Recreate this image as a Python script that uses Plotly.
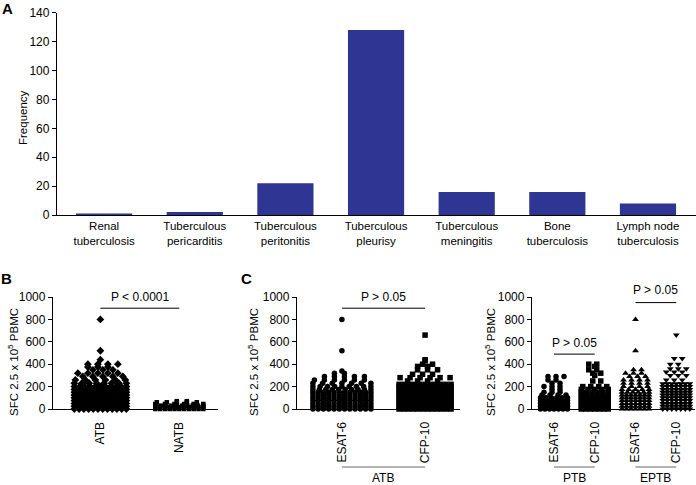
import plotly.graph_objects as go

W, H = 696, 485

# ---------------- Panel A data ----------------
sites = ["Renal<br>tuberculosis", "Tuberculous<br>pericarditis", "Tuberculous<br>peritonitis",
         "Tuberculous<br>pleurisy", "Tuberculous<br>meningitis", "Bone<br>tuberculosis",
         "Lymph node<br>tuberculosis"]
site_freq = [1, 2, 22, 128, 16, 16, 8]

# ---------------- Panel B data (SFC levels and number of patients at each level) ----------------
b_groups = ["ATB", "NATB"]
atb_levels = [0, 25, 50, 75, 100, 125, 150, 175, 200, 230, 260, 290, 320, 350, 375, 400, 440, 520, 800]
atb_counts = [12, 12, 12, 12, 12, 12, 12, 12, 11, 8, 6, 5, 5, 3, 3, 4, 1, 1, 1]
natb_levels = [0, 15, 30, 45, 60, 70]
natb_counts = [11, 11, 10, 6, 5, 2]
b_medians = [100, 0]

# ---------------- Panel C (left) data: ATB ----------------
c1_groups = ["ESAT-6", "CFP-10"]
c1_esat_levels = [0, 25, 50, 75, 100, 125, 150, 175, 200, 230, 260, 290, 320, 340, 520, 800]
c1_esat_counts = [12, 12, 12, 12, 12, 12, 12, 10, 9, 7, 6, 5, 2, 1, 1, 1]
c1_cfp_levels = [0, 25, 50, 75, 100, 125, 150, 175, 200, 220, 250, 280, 310, 350, 380, 400, 430, 440, 660]
c1_cfp_counts = [12, 12, 12, 12, 12, 12, 12, 12, 12, 11, 4, 6, 3, 3, 2, 2, 1, 1, 1]
c1_medians = [75, 75]

# ---------------- Panel C (right) data: PTB / EPTB ----------------
c2_groups = ["ESAT-6", "CFP-10", "ESAT-6", "CFP-10"]
ptb_esat_levels = [0, 25, 50, 75, 100, 125, 150, 175, 200, 230, 260, 290]
ptb_esat_counts = [7, 7, 7, 7, 6, 4, 3, 2, 3, 2, 2, 3]
ptb_cfp_levels = [0, 25, 50, 75, 100, 125, 150, 175, 200, 250, 300, 320, 350, 380, 400]
ptb_cfp_counts = [7, 7, 7, 7, 7, 6, 6, 5, 4, 2, 1, 2, 2, 1, 2]
eptb_esat_levels = [0, 25, 50, 75, 100, 125, 150, 175, 200, 230, 260, 290, 320, 350, 520, 800]
eptb_esat_counts = [7, 7, 7, 7, 7, 7, 6, 5, 4, 4, 4, 3, 3, 2, 1, 1]
eptb_cfp_levels = [0, 25, 50, 75, 100, 125, 150, 175, 200, 225, 260, 300, 330, 360, 400, 450, 660]
eptb_cfp_counts = [7, 7, 7, 7, 7, 7, 7, 7, 7, 7, 3, 3, 3, 3, 2, 2, 1]

y_title = "SFC 2.5 x 10<sup>5</sup> PBMC"
p_texts = ["P < 0.0001", "P > 0.05", "P > 0.05", "P > 0.05"]

# ---------------- layout geometry (pixels) ----------------
def pxx(p):
    return p / W

def pxy(p):
    return 1 - p / H

FONT = "Liberation Sans, Arial, sans-serif"
BAR = "#2e3592"

axA_x = (57, 696); axA_range = (-0.52, 6.53)
axB_x = (53, 218); axB_range = (-0.60, 1.49)
axC1_x = (297, 460); axC1_range = (-0.54, 1.42)
axC2_x = (532, 695); axC2_range = (-0.54, 3.46)
yBC = (297, 409)  # top (1000) and bottom (0) in px


def ppu(axx, rng):
    return (axx[1] - axx[0]) / (rng[1] - rng[0])


def swarm(levels, counts, center, px_per_unit, maxw, cap=10.0):
    xs, ys = [], []
    for r, (lv, n) in enumerate(zip(levels, counts)):
        if n <= 0:
            continue
        s = 0 if n == 1 else min(cap, maxw / (n - 1))
        # stagger sparse rows so the upper points look scattered
        shift = 0.0
        if n > 1 and s >= cap and (n - 1) * s + s / 2 <= maxw:
            shift = (s / 4) if r % 2 else (-s / 4)
        for k in range(n):
            off = (k - (n - 1) / 2) * s + shift
            xs.append(center + off / px_per_unit)
            ys.append(lv)
    return xs, ys


fig = go.Figure()

# Panel A bars
fig.add_trace(go.Bar(x=list(range(len(sites))), y=site_freq, marker=dict(color=BAR, line=dict(width=0)),
                     width=0.62, xaxis="x", yaxis="y", showlegend=False))

# Panel B
pB = ppu(axB_x, axB_range)
for i, (lv, ct, sym, sz, mw) in enumerate([(atb_levels, atb_counts, "diamond", 6, 52),
                                          (natb_levels, natb_counts, "square", 4.5, 48)]):
    xs, ys = swarm(lv, ct, i, pB, mw)
    fig.add_trace(go.Scatter(x=xs, y=ys, mode="markers", xaxis="x2", yaxis="y2",
                             marker=dict(symbol=sym, size=sz, color="black", line=dict(width=0)),
                             cliponaxis=False, showlegend=False))

# Panel C left
pC1 = ppu(axC1_x, axC1_range)
for i, (lv, ct, sym, sz, mw) in enumerate([(c1_esat_levels, c1_esat_counts, "circle", 5.5, 58),
                                          (c1_cfp_levels, c1_cfp_counts, "square", 5.5, 52)]):
    xs, ys = swarm(lv, ct, i, pC1, mw)
    fig.add_trace(go.Scatter(x=xs, y=ys, mode="markers", xaxis="x3", yaxis="y3",
                             marker=dict(symbol=sym, size=sz, color="black", line=dict(width=0)),
                             cliponaxis=False, showlegend=False))

# Panel C right
pC2 = ppu(axC2_x, axC2_range)
for i, (lv, ct, sym, sz) in enumerate([(ptb_esat_levels, ptb_esat_counts, "circle", 5.5),
                                      (ptb_cfp_levels, ptb_cfp_counts, "square", 5.5),
                                      (eptb_esat_levels, eptb_esat_counts, "triangle-up", 6),
                                      (eptb_cfp_levels, eptb_cfp_counts, "triangle-down", 6)]):
    xs, ys = swarm(lv, ct, i, pC2, 27, cap=8.0)
    fig.add_trace(go.Scatter(x=xs, y=ys, mode="markers", xaxis="x4", yaxis="y4",
                             marker=dict(symbol=sym, size=sz, color="black", line=dict(width=0)),
                             cliponaxis=False, showlegend=False))

shapes = []
# median lines
for i, m in enumerate(b_medians):
    if m > 0:
        h = 27.5 / pB
        shapes.append(dict(type="line", xref="x2", yref="y2", x0=i - h, x1=i + h, y0=m, y1=m,
                           line=dict(color="black", width=1.5)))
for i, m in enumerate(c1_medians):
    h = 27.5 / pC1
    shapes.append(dict(type="line", xref="x3", yref="y3", x0=i - h, x1=i + h, y0=m, y1=m,
                       line=dict(color="black", width=1.5)))

# significance lines (y in data units) and their labels (y in px)
sig = [("x2", "y2", 0, 1, 900), ("x3", "y3", 0, 1, 900), ("x4", "y4", 0, 1, 490), ("x4", "y4", 2, 3, 950)]
sig_text_px = [297, 297, 343, 290]
for (xr, yr, a, b, yy) in sig:
    shapes.append(dict(type="line", xref=xr, yref=yr, x0=a, x1=b, y0=yy, y1=yy,
                       line=dict(color="black", width=1)))

# group brackets below the x labels
brackets = [("x3", 0, 1, "ATB"), ("x4", 0, 1, "PTB"), ("x4", 2, 3, "EPTB")]
for xr, a, b, t in brackets:
    shapes.append(dict(type="line", xref=xr, yref="paper", x0=a, x1=b, y0=pxy(467), y1=pxy(467),
                       line=dict(color="#666666", width=1)))

annotations = []
for (xr, yr, a, b, yy), ty, t in zip(sig, sig_text_px, p_texts):
    annotations.append(dict(xref=xr, yref="paper", x=(a + b) / 2, y=pxy(ty), text=t, showarrow=False,
                            xanchor="center", yanchor="middle", font=dict(size=12, color="black", family=FONT)))
for xr, a, b, t in brackets:
    annotations.append(dict(xref=xr, yref="paper", x=(a + b) / 2, y=pxy(478), text=t, showarrow=False,
                            xanchor="center", yanchor="middle", font=dict(size=12, color="black", family=FONT)))

# axis titles
for (px, py, t) in [(23, 118, "Frequency"), (13, 362, y_title), (253, 362, y_title), (490, 362, y_title)]:
    annotations.append(dict(xref="paper", yref="paper", x=pxx(px), y=pxy(py), text=t, textangle=-90,
                            showarrow=False, xanchor="center", yanchor="middle",
                            font=dict(size=11.5, color="black", family=FONT)))
# panel letters
for (px, py, t) in [(7, 8, "A"), (6, 278, "B"), (246, 278, "C")]:
    annotations.append(dict(xref="paper", yref="paper", x=pxx(px), y=pxy(py), text="<b>%s</b>" % t,
                            showarrow=False, xanchor="center", yanchor="middle",
                            font=dict(size=15, color="black", family=FONT)))

common_y = dict(showline=True, linecolor="black", linewidth=1.3, ticks="outside", ticklen=4,
                tickcolor="black", tickwidth=1.2, showgrid=False, zeroline=False, automargin=False,
                tickfont=dict(size=12, color="black", family=FONT))
common_x = dict(showline=True, linecolor="black", linewidth=1.3, showgrid=False, zeroline=False,
                ticks="outside", ticklen=7, tickcolor="rgba(0,0,0,0)", automargin=False,
                tickfont=dict(size=12, color="black", family=FONT), tickangle=-90)

fig.update_layout(
    width=W, height=H, margin=dict(l=0, r=0, t=0, b=0, autoexpand=False),
    paper_bgcolor="white", plot_bgcolor="white", showlegend=False,
    font=dict(family=FONT, color="black"),
    xaxis=dict(domain=[pxx(axA_x[0]), pxx(axA_x[1])], range=list(axA_range), anchor="y",
               tickvals=list(range(len(sites))), ticktext=sites, showline=True, linecolor="black",
               linewidth=1.3, ticks="", showgrid=False, zeroline=False, automargin=False,
               tickfont=dict(size=11.5, color="black", family=FONT)),
    yaxis=dict(domain=[pxy(215), pxy(12.7)], range=[0, 140], dtick=20, anchor="x", **common_y),
    xaxis2=dict(domain=[pxx(axB_x[0]), pxx(axB_x[1])], range=list(axB_range), anchor="y2",
                tickvals=[0, 1], ticktext=b_groups, **common_x),
    yaxis2=dict(domain=[pxy(yBC[1]), pxy(yBC[0])], range=[0, 1000], dtick=200, anchor="x2", **common_y),
    xaxis3=dict(domain=[pxx(axC1_x[0]), pxx(axC1_x[1])], range=list(axC1_range), anchor="y3",
                tickvals=[0, 1], ticktext=c1_groups, **common_x),
    yaxis3=dict(domain=[pxy(yBC[1]), pxy(yBC[0])], range=[0, 1000], dtick=200, anchor="x3", **common_y),
    xaxis4=dict(domain=[pxx(axC2_x[0]), pxx(axC2_x[1])], range=list(axC2_range), anchor="y4",
                tickvals=[0, 1, 2, 3], ticktext=c2_groups, **common_x),
    yaxis4=dict(domain=[pxy(yBC[1]), pxy(yBC[0])], range=[0, 1000], dtick=200, anchor="x4", **common_y),
    shapes=shapes, annotations=annotations,
)

fig.write_html("out.html", config={"displayModeBar": False},
               post_script="document.body.style.margin='0px';")
